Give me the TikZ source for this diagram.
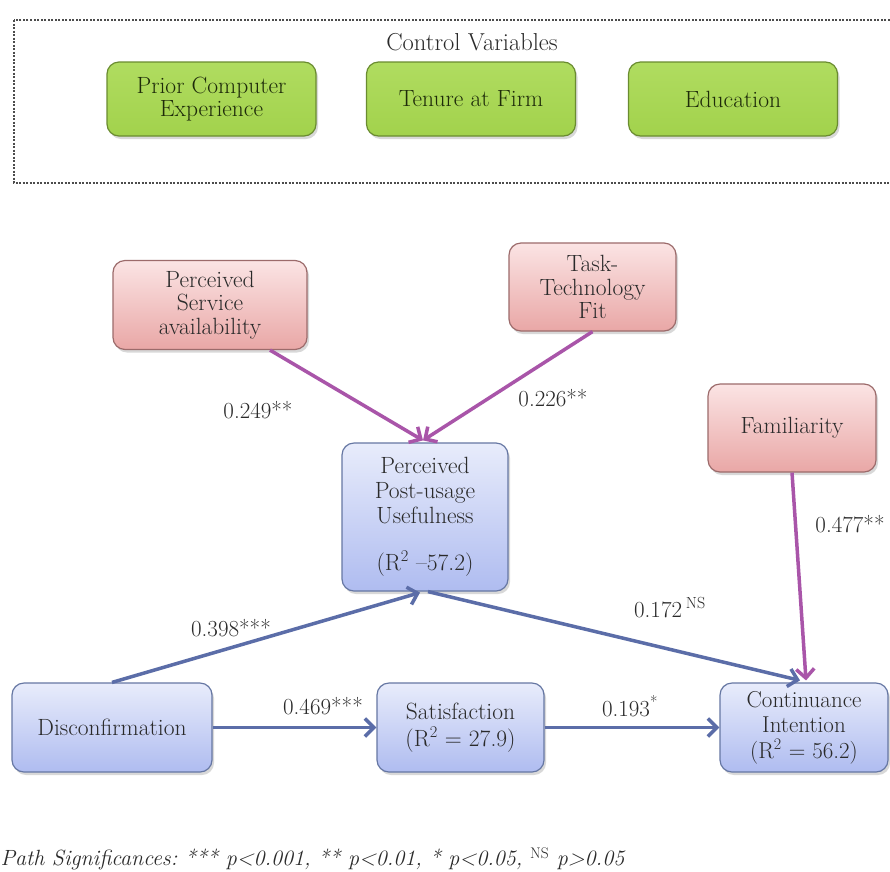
\documentclass[tikz,border=0pt]{standalone}
\usetikzlibrary{arrows.meta,shadows,calc}
\definecolor{grnfill}{HTML}{A2D24C}
\definecolor{grntop}{HTML}{B0DC60}
\definecolor{grnline}{HTML}{6A8C30}
\definecolor{grntext}{HTML}{1E2B0A}
\definecolor{pinktop}{HTML}{FBE4E4}
\definecolor{pinkbot}{HTML}{E9A7A6}
\definecolor{pinkline}{HTML}{9C6B6B}
\definecolor{bluetop}{HTML}{E8ECFB}
\definecolor{bluebot}{HTML}{AFBCF0}
\definecolor{blueline}{HTML}{6677A3}
\definecolor{magarrow}{HTML}{A955A9}
\definecolor{bluearrow}{HTML}{5B6DA8}
\definecolor{txt}{HTML}{2A2A2A}
\tikzset{
  boxbase/.style={rounded corners=12pt, line width=1.2pt, align=center,
    inner sep=2pt, text=txt, font=\fontsize{23.5}{23.5}\selectfont,
    drop shadow={opacity=0.3, shadow xshift=2pt, shadow yshift=-3pt}},
  ctrlbox/.style={boxbase, draw=grnline, top color=grntop, bottom color=grnfill,
    text=grntext, minimum width=209pt, minimum height=74pt},
  pinkbox/.style={boxbase, draw=pinkline, top color=pinktop, bottom color=pinkbot},
  bluebox/.style={boxbase, draw=blueline, top color=bluetop, bottom color=bluebot},
  magpath/.style={draw=magarrow, line width=3.5pt,
    -{Straight Barb[length=9pt,width=18pt,line width=3.5pt]}},
  bluepath/.style={draw=bluearrow, line width=3.5pt,
    -{Straight Barb[length=9pt,width=18pt,line width=3.5pt]}},
  coef/.style={font=\fontsize{23}{24}\selectfont, text=txt}
}
\begin{document}
\frenchspacing
\begin{tikzpicture}[x=1pt,y=-1pt]
\useasboundingbox (0,0) rectangle (890,871);
\fill[white] (0,0) rectangle (890,871);

% control variables panel
\draw[line width=1.3pt, draw=black!70, dash pattern=on 2pt off 1.5pt]
  (14,20) rectangle (896,183);
\node[coef, font=\fontsize{24.5}{24}\selectfont] (cvtitle) at (472,42) {Control Variables};
\node[ctrlbox] (pce) at (211.5,99) {Prior Computer\\Experience};
\node[ctrlbox] (tenure) at (471,99) {Tenure at Firm};
\node[ctrlbox] (edu) at (733,99) {Education};

% constructs
\node[pinkbox, minimum width=194pt, minimum height=89pt] (psa) at (210,305)
  {Perceived\\Service\\availability};
\node[pinkbox, minimum width=167pt, minimum height=88pt] (ttf) at (592.5,287)
  {Task-\\Technology\\Fit};
\node[pinkbox, minimum width=168pt, minimum height=88pt] (fam) at (792,428)
  {Familiarity};
\node[bluebox, minimum width=166pt, minimum height=148pt, font=\fontsize{23.5}{25}\selectfont]
  (ppu) at (425,517)
  {Perceived\\Post-usage\\Usefulness\\[22pt](R\textsuperscript{2} –57.2)};
\node[bluebox, minimum width=200pt, minimum height=89pt] (dis) at (112,727.5)
  {Disconfirmation};
\node[bluebox, minimum width=167pt, minimum height=89pt, font=\fontsize{23.5}{27}\selectfont]
  (sat) at (460.5,727.5)
  {Satisfaction\\(R\textsuperscript{2} = 27.9)};
\node[bluebox, minimum width=168pt, minimum height=89pt, font=\fontsize{23}{25.5}\selectfont]
  (ci) at (804,727.5)
  {Continuance\\Intention\\(R\textsuperscript{2} = 56.2)};

% anchor points on the box borders
\coordinate (psaOut) at ($(psa.south)+(60,0)$);
\coordinate (ppuIn) at ($(ppu.north)+(-2,-2)$);
\coordinate (ppuLow) at ($(ppu.south)+(-5,1)$);
\coordinate (ppuOut) at ($(ppu.south)+(3,0)$);
\coordinate (disOut) at (dis.north);
\coordinate (ciTop) at ($(ci.north)+(2,-2)$);
\coordinate (ciTopL) at ($(ci.north)+(-4,-2)$);

% paths
\draw[magpath] (psaOut) -- (ppuIn);
\draw[magpath] (ttf.south) -- (ppuIn);
\draw[magpath] (fam.south) -- (ciTop);
\draw[bluepath] (disOut) -- (ppuLow);
\draw[bluepath] (ppuOut) -- (ciTopL);
\draw[bluepath] (dis.east) -- (sat.west);
\draw[bluepath] (sat.east) -- (ci.west);

% path coefficients
\node[coef] (c1) at (258,410) {0.249**};
\node[coef] (c2) at (553,398) {0.226**};
\node[coef] (c3) at (850,524) {0.477**};
\node[coef] (c4) at (231,628) {0.398***};
\node[coef] (c5) at (670,608) {0.172\,\textsuperscript{NS}};
\node[coef] (c6) at (323,706) {0.469***};
\node[coef] (c7) at (630,706) {0.193\textsuperscript{*}};

% legend
\node[coef, anchor=west, font=\fontsize{22}{22}\selectfont\itshape] (legend) at (-3,859)
  {Path Significances: *** p<0.001, ** p<0.01, * p<0.05, \textsuperscript{\upshape NS} p>0.05};
\end{tikzpicture}
\end{document}
